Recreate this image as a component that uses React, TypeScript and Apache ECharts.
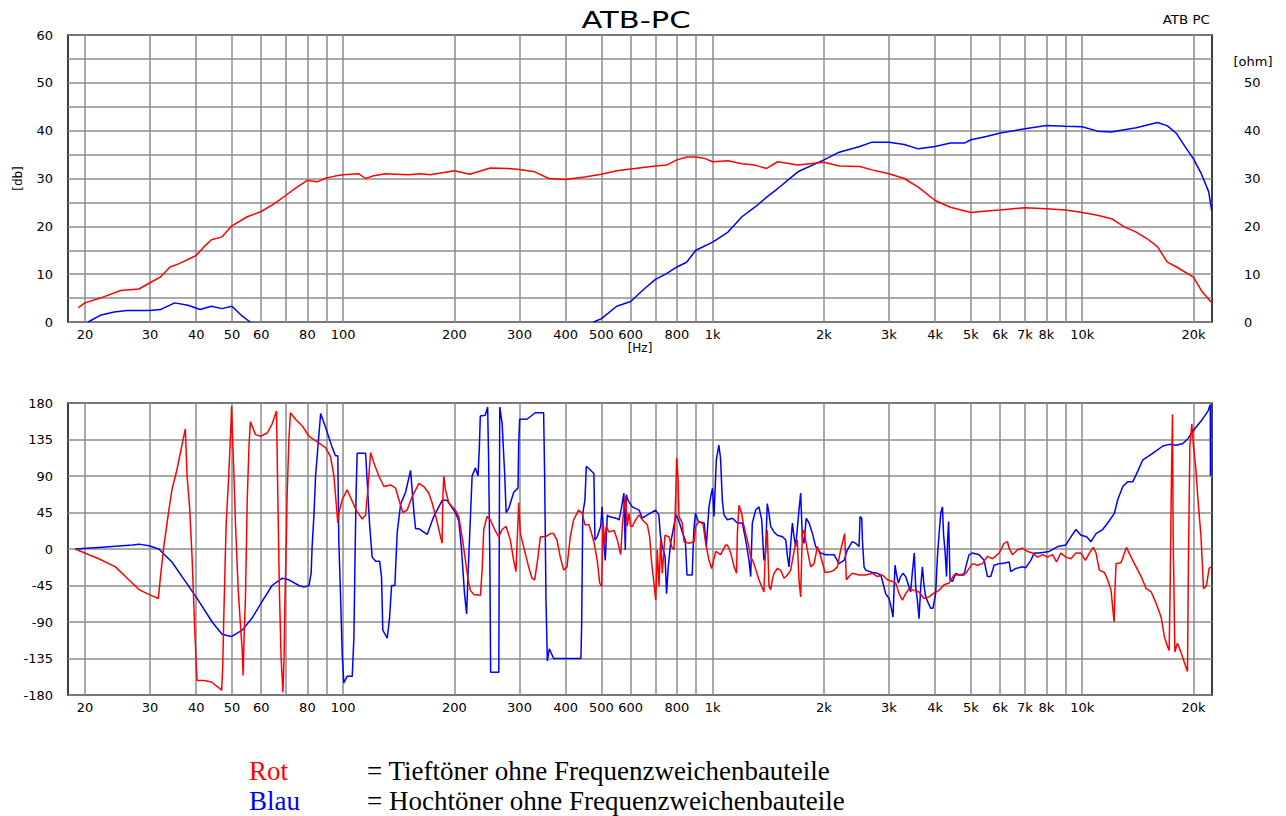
import React, { useEffect, useRef } from "react";
import * as echarts from "echarts";

// ---- axis ticks ----
const gridFreqs = [20, 30, 40, 50, 60, 70, 80, 90, 100, 200, 300, 400, 500, 600, 700, 800, 900, 1000, 2000, 3000, 4000, 5000, 6000, 7000, 8000, 9000, 10000, 20000];
const labelFreqs = [20, 30, 40, 50, 60, 80, 100, 200, 300, 400, 500, 600, 800, 1000, 2000, 3000, 4000, 5000, 6000, 7000, 8000, 10000, 20000];

// ---- magnitude (dB) ----
const redMagFreq = [19.2, 20, 22, 25, 28, 30, 32, 34, 36, 40, 42, 44, 47, 50, 55, 60, 65, 70, 75, 80, 85, 90, 95, 100, 110, 115, 120, 130, 150, 162, 172, 200, 220, 250, 280, 300, 330, 360, 400, 450, 500, 550, 600, 700, 750, 800, 850, 900, 950, 1000, 1100, 1200, 1300, 1400, 1500, 1700, 2000, 2200, 2500, 2700, 3000, 3300, 3600, 4000, 4400, 5000, 5500, 6000, 7000, 8000, 9000, 10000, 11000, 12000, 13000, 14000, 15000, 16000, 17000, 18000, 20000, 21000, 22300];
const redMagDb = [3.0, 4.0, 5.0, 6.6, 6.9, 8.2, 9.4, 11.5, 12.2, 13.9, 15.7, 17.2, 17.8, 20.1, 22.0, 23.1, 24.7, 26.5, 28.2, 29.6, 29.3, 30.1, 30.5, 30.8, 31.0, 30.0, 30.5, 31.0, 30.8, 31.0, 30.8, 31.6, 30.9, 32.2, 32.1, 31.9, 31.4, 30.0, 29.8, 30.3, 30.9, 31.6, 32.0, 32.6, 32.8, 33.9, 34.5, 34.5, 34.2, 33.5, 33.7, 33.1, 32.8, 32.1, 33.5, 32.8, 33.4, 32.6, 32.5, 31.8, 31.0, 30.0, 28.2, 25.4, 24.0, 22.9, 23.2, 23.4, 23.9, 23.7, 23.4, 22.9, 22.3, 21.6, 19.9, 18.8, 17.4, 15.7, 12.5, 11.5, 9.4, 6.6, 4.2];

const blueMagLowFreq = [20.4, 22, 24, 26, 30, 32, 35, 38, 41, 44, 47, 50, 53, 56];
const blueMagLowDb = [0, 1.4, 2.1, 2.4, 2.4, 2.6, 4.0, 3.5, 2.6, 3.3, 2.8, 3.3, 1.4, 0];
const blueMagHighFreq = [476, 500, 550, 600, 650, 700, 750, 800, 850, 900, 1000, 1100, 1200, 1300, 1400, 1500, 1700, 2000, 2200, 2500, 2700, 3000, 3300, 3600, 4000, 4400, 4800, 5000, 5500, 6000, 7000, 8000, 9000, 10000, 11000, 12000, 13000, 14000, 15000, 16000, 17000, 18000, 19000, 20000, 21000, 22000, 22400];
const blueMagHighDb = [0, 0.7, 3.3, 4.3, 6.8, 8.9, 10.1, 11.5, 12.5, 15.0, 16.7, 18.8, 22.0, 24.0, 26.1, 27.9, 31.4, 33.9, 35.5, 36.7, 37.6, 37.6, 37.1, 36.2, 36.7, 37.4, 37.4, 38.1, 38.8, 39.5, 40.4, 41.1, 40.9, 40.8, 39.9, 39.7, 40.2, 40.6, 41.2, 41.7, 41.0, 39.4, 36.6, 34.1, 31.0, 27.2, 23.3];

// ---- phase (degrees) ----
const redPhaseFreq = [18.8, 21.8, 24.2, 26.3, 28.0, 29.8, 31.6, 32.1, 32.7, 33.7, 34.4, 35.5, 36.5, 37.4, 37.8, 38.4, 39.0, 39.7, 40.2, 42.0, 44.0, 46.9, 47.2, 47.5, 48.2, 49.0, 49.6, 49.9, 50.1, 50.6, 51.1, 52.0, 52.7, 53.3, 53.6, 54.0, 54.4, 55.0, 55.6, 56.1, 57.9, 59.8, 62.3, 64.2, 66.0, 66.5, 67.2, 67.9, 68.7, 69.2, 69.5, 70.1, 70.5, 71.3, 72.0, 74.3, 77.4, 80.8, 85.0, 89.6, 92.4, 94.4, 95.7, 96.7, 97.3, 99.4, 102.5, 105.3, 108.4, 112.6, 115.0, 116.6, 118.6, 121.1, 124.9, 128.9, 134.3, 138.6, 141.5, 145.0, 149.0, 153.8, 158.7,
  160.2, 165.3, 170.4, 174, 177.6, 180.7, 183.4, 185.3, 186, 187.2, 189.1, 193.1, 197.1, 201.2, 205.5, 209.8, 214.2, 217.8, 221, 225.6, 235.2, 237.7, 240.1, 245.1, 250.2, 257, 263.7, 269.2, 275.9, 283.4, 289.3, 293.5, 298.5, 301.6, 307.8, 317.6, 324.3, 329.8, 336.7, 341.7, 352.5, 363.6, 371.2, 379, 386.8, 395, 403.3, 411.7, 420.3, 433.6,
  443.6, 451, 462.5, 477, 487, 494.5, 500.7, 504.8, 511, 515, 524, 540.7, 552, 563.6, 569.4, 575.4, 581.5, 587.3, 593.5, 599.8, 605.9, 618.8, 631.7, 644.8, 665.3, 675.1, 683.8, 693.6, 701, 708, 715.5, 723.1, 730.4, 742.8, 761.5, 774.4, 785.6, 794, 798.9, 805.4, 810.5, 827.3, 836.1, 862.6, 890, 899.5, 918.2, 941.5, 957.4, 977.2, 993.8, 1018.8, 1051, 1084,
  1096, 1119, 1143, 1160, 1166, 1178, 1197, 1210, 1228, 1247, 1267, 1293, 1334, 1376, 1390, 1405, 1420, 1435, 1450, 1465, 1496, 1527, 1560, 1593, 1626, 1643, 1670, 1694, 1712, 1730, 1748, 1766, 1803, 1842, 1881, 1920, 1960, 2014, 2086, 2130, 2175, 2220, 2253, 2276, 2300, 2339, 2387, 2489,
  2595, 2705, 2791, 2879, 2970, 3064, 3129, 3194, 3261, 3328, 3399, 3508, 3618, 3733, 3851, 3974, 4099, 4229, 4362, 4500, 4643, 4840, 5045, 5205, 5370, 5541, 5716, 5957, 6146, 6275,
  6341, 6474, 6680, 6891, 7110, 7336, 7569, 7808, 8057, 8311, 8520, 8750, 9035, 9320, 9618, 9923, 10200, 10453, 10720, 10900, 11127, 11480, 11720, 11965, 12200, 12260, 12350, 12740, 13010, 13170, 13560, 13990, 14440, 14900, 15370, 15850, 16350, 16700, 17050, 17190, 17290, 17440, 17550, 17620, 17810, 18100, 18490, 18870, 19270, 19390, 19560, 19800, 20000, 20300, 20590, 20950, 21150, 21290, 21690, 22050, 22350];
const redPhaseDeg = [0, -12, -22, -38, -50, -56, -61, -30, 3, 46, 73, 98, 125, 148, 90, 52, -10, -105, -162, -162, -164, -174, -146, -88, 28, 90, 145, 176, 148, 94, 32, -51, -92, -125, -156, -100, -59, 61, 127, 157, 141, 139, 143, 154, 170, 73, -51, -133, -177, -133, -71, 3, 65, 135, 168, 160, 152, 139, 132, 125, 114, 90, 57, 32, 44, 61, 73, 61, 48, 37, 42, 73, 119, 106, 90, 77, 79, 75, 61, 45, 48, 65, 77,
  81, 77, 69, 57, 42, 28, 15, 7, 61, 90, 73, 57, 52, 48, 40, 15, -14, -38, -51, -56, -57, -26, 24, 40, 36, 24, 15, 24, 28, 11, -14, -28, 57, 19, 3, -22, -36, -38, -10, 15, 15, 19, 19, 11, -10, -26, -22, 15, 36, 48,
  44, 30, 30, 9, -14, -42, -46, 32, 7, 28, 21, 23, 11, -7, 28, 52, 65, 28, 44, 28, 28, 36, 42, 36, 30, 15, -18, -42, -63, -1, -46, 11, -30, 17, 15, 3, -1, 65, 112, 89, 40, 32, 9, 7, 9, 28, 34, 31, 7, -14, -24, -3, -7, 5,
  5, -5, -22, -30, 19, 54, 44, 32, 19, 7, -9, -18, -38, -53, 3, 23, -46, -50, -38, -30, -24, -26, -36, -32, -26, -14, 3, 11, -38, -59, 19, 23, -1, -22, -18, 3, -9, -29, -28, -26, -22, -1, 11, 19, -38, -34, -30, -32,
  -32, -30, -34, -32, -38, -40, -42, -55, -63, -55, -49, -51, -53, -61, -59, -54, -51, -44, -42, -32, -32, -30, -18, -20, -18, -9, -12, -5, 7, 9,
  1, -7, -1, 1, -3, -5, -10, -7, -10, -7, -16, -5, -10, -12, -5, -5, -14, -5, 2, -5, -26, -29, -38, -51, -90, -51, -18, -17, -5, 2, -10, -22, -34, -49, -53, -67, -84, -109, -121, -125, -53, 91, 166, 21, -127, -116, -127, -139, -151, -8, 127, 154, 127, 99, 58, 17, -20, -49, -45, -24, -22];

const bluePhaseFreq = [18.8, 21.8, 26.9, 28.0, 29.8, 31.7, 34.4, 37.4, 40.1, 44.2, 47.0, 49.8, 53.3, 56.7, 60.3, 64.2, 68.4, 71.3, 75.9, 78.3, 80.8, 81.9, 82.4, 83.3, 84.2, 85.6, 86.9, 89.6, 93.4, 95.3, 96.7, 97.3, 98.4, 99.4, 100.4, 102.5, 105.8, 106.9, 107.6, 108.4, 109.1, 115.0, 116.2, 117.9, 119.8, 122.4, 125.5, 127.0, 128.0, 131.6, 133.5, 135.2, 138.0, 140.0, 143.0, 147.5, 152.2, 155.4, 157.0,
  160.2, 168.8, 175.8, 185.3, 191, 201.2, 205.5, 209, 213, 215.8, 217.8, 221, 223.3, 228, 231.7, 233.6, 235, 242.4, 246, 247.5, 249.6, 250.6, 263.7, 265.3, 269.2, 273.7, 276, 280.6, 289.4, 297.2, 298.5, 300.4, 314.3, 331, 348.7, 350.9, 353.8, 356.8, 361.3, 371.2, 439.9,
  442, 445, 451, 455, 477, 480, 487, 497.6, 502, 507.8, 512, 518.5, 524, 547, 558, 567, 575, 580, 584, 590, 606, 632, 645, 666, 700, 715, 721, 730, 743, 750, 758, 769, 781, 795, 808, 830, 843, 852, 880, 889, 898, 914, 948, 961, 977, 988, 999, 1008, 1023, 1039,
  1050, 1062, 1073, 1096, 1131, 1166, 1203, 1228, 1254, 1267, 1280, 1307, 1334, 1357, 1376, 1390, 1405, 1420, 1435, 1465, 1496, 1545, 1577, 1593, 1609, 1626, 1643, 1660, 1677, 1712, 1730, 1748, 1766, 1791, 1823, 1862, 1900, 1960, 2022, 2130, 2197, 2268, 2314, 2387, 2437, 2489,
  2505, 2531, 2542, 2568, 2595, 2705, 2791, 2850, 2890, 2937, 3001, 3050, 3076, 3095, 3115, 3140, 3180, 3225, 3273, 3328, 3385, 3433, 3468, 3512, 3542, 3580, 3618, 3656, 3694, 3733, 3772, 3835, 3890, 3946, 4012, 4057, 4099, 4142, 4186, 4213, 4257, 4294, 4322, 4350, 4388, 4455, 4548, 4643, 4790, 4840, 4941, 5045, 5259, 5426, 5541, 5655, 5775, 5957,
  6082, 6341, 6407, 6610, 6891, 7036, 7260, 7411, 7648, 8141, 8577, 9035, 9320, 9618, 9923, 10280, 10560, 10900, 11360, 11720, 12220, 12480, 12880, 13280, 13710, 14140, 14590, 15050, 15850, 16530, 17231, 17960, 18720, 19320, 20140, 21000, 21890, 22210, 22230];
const bluePhaseDeg = [0, 2, 5, 6, 4, 0, -16, -40, -60, -90, -105, -108, -100, -85, -65, -45, -36, -38, -45, -47, -45, -30, 3, 40, 90, 131, 167, 150, 125, 115, 115, 11, -60, -130, -165, -157, -157, -110, -18, 70, 118, 118, 81, 30, -10, -15, -15, -35, -100, -110, -85, -45, -45, 20, 55, 70, 97, 45, 25,
  25, 18, 40, 60, 60, 45, 35, 0, -55, -80, -30, 40, 90, 100, 90, 125, 164, 165, 175, 110, -30, -152, -152, 175, 155, 90, 45, 50, 70, 75, 130, 160, 160, 168, 168, 90, -60, -138, -123, -135, -135,
  -92, 44, 60, 102, 93, 11, 15, 28, 52, 7, -14, 42, 40, 38, 36, 52, 69, -1, 67, 60, 52, 48, 38, 42, 48, 42, 19, 3, -9, -55, -22, 7, 23, 42, 36, 19, 11, -32, -32, 23, 44, 34, 32, 3, 52, 65, 75, 40, 110, 128,
  112, 60, 42, 36, 38, 32, 32, 11, -14, -34, 32, 48, 52, 36, -14, -5, 56, 44, 28, 21, 17, 15, 11, -9, -22, 7, 32, 15, 3, 48, 69, 15, 7, 38, 32, 19, 3, -5, -7, -7, -18, -14, -1, 9, 7, 3,
  40, 38, 11, -22, -26, -29, -30, -32, -42, -55, -61, -75, -84, -51, -20, -30, -42, -34, -30, -34, -44, -53, -30, -5, -46, -63, -86, -46, -22, -46, -59, -67, -73, -73, -55, -9, 19, 44, 52, 19, -5, -34, 11, 34, -38, -40, -30, -32, -32, -22, -7, -5, -7, -14, -34, -34, -20, -18,
  -18, -16, -28, -24, -22, -23, -14, -5, -5, -3, 3, 5, 15, 24, 17, 15, 9, 19, 24, 32, 44, 61, 77, 83, 83, 96, 110, 114, 121, 127, 129, 128, 130, 136, 148, 158, 170, 178, 90];

const RED = "#ff0000";
const BLUE = "#0000ff";
const GRID_COLOR = "#8c8c8c";
const AXIS_FONT = "DejaVu Sans";

const pairs = (xs: number[], ys: number[]) => xs.map((x, i) => [x, ys[i]]);
const freqLabel = (v: number) => (v >= 1000 ? `${Math.round(v / 1000)}k` : `${Math.round(v)}`);

export default function App() {
  const ref = useRef<HTMLDivElement>(null);

  useEffect(() => {
    if (!ref.current) return;
    const chart = echarts.init(ref.current, undefined, { renderer: "svg" });

    const xAxisBase = (gridIndex: number, margin: number) => ({
      type: "log" as const,
      logBase: 10,
      gridIndex,
      min: 18,
      max: 22450,
      axisLine: { show: false },
      axisTick: { show: false, customValues: gridFreqs },
      axisLabel: {
        customValues: labelFreqs,
        formatter: (v: number) => freqLabel(v),
        color: "#000",
        fontFamily: AXIS_FONT,
        fontSize: 13,
        margin,
      },
      splitLine: { show: true, lineStyle: { color: GRID_COLOR, width: 1.5 } },
      minorTick: { show: false },
      minorSplitLine: { show: false },
    });

    const lineSeries = (name: string, data: number[][], color: string, xi: number, yi: number) => ({
      name,
      type: "line" as const,
      xAxisIndex: xi,
      yAxisIndex: yi,
      data,
      showSymbol: false,
      symbol: "none",
      clip: true,
      lineStyle: { color, width: 1.5 },
      itemStyle: { color },
      z: 3,
    });

    const option: any = {
      animation: false,
      backgroundColor: "#ffffff",
      grid: [
        { left: 68, top: 35, width: 1144, height: 287, show: true, borderColor: "#000", borderWidth: 1.5, backgroundColor: "transparent" },
        { left: 68, top: 403, width: 1144, height: 292, show: true, borderColor: "#000", borderWidth: 1.5, backgroundColor: "transparent" },
      ],
      xAxis: [
        {
          ...xAxisBase(0, 6),
          name: "[Hz]",
          nameLocation: "middle",
          nameGap: 19,
          nameTextStyle: { color: "#000", fontFamily: AXIS_FONT, fontSize: 12 },
        },
        xAxisBase(1, 6),
      ],
      yAxis: [
        {
          type: "value",
          gridIndex: 0,
          min: 0,
          max: 60,
          interval: 5,
          name: "[db]",
          nameLocation: "middle",
          nameRotate: 90,
          nameGap: 44,
          nameTextStyle: { color: "#000", fontFamily: AXIS_FONT, fontSize: 12 },
          axisLine: { show: false },
          axisTick: { show: false },
          axisLabel: {
            formatter: (v: number) => (v % 10 === 0 ? String(v) : ""),
            color: "#000",
            fontFamily: AXIS_FONT,
            fontSize: 13,
            margin: 15,
          },
          splitLine: { show: true, lineStyle: { color: GRID_COLOR, width: 1.5 } },
        },
        {
          type: "value",
          gridIndex: 0,
          position: "right",
          min: 0,
          max: 60,
          interval: 10,
          axisLine: { show: false },
          axisTick: { show: false },
          axisLabel: {
            formatter: (v: number) => (v === 60 ? "" : String(v)),
            color: "#000",
            fontFamily: AXIS_FONT,
            fontSize: 13,
            margin: 32,
          },
          splitLine: { show: false },
        },
        {
          type: "value",
          gridIndex: 1,
          min: -180,
          max: 180,
          interval: 45,
          axisLine: { show: false },
          axisTick: { show: false },
          axisLabel: { color: "#000", fontFamily: AXIS_FONT, fontSize: 13, margin: 15 },
          splitLine: { show: true, lineStyle: { color: GRID_COLOR, width: 1.5 } },
        },
      ],
      series: [
        lineSeries("Hochtöner", pairs(blueMagLowFreq, blueMagLowDb), BLUE, 0, 0),
        lineSeries("Hochtöner ", pairs(blueMagHighFreq, blueMagHighDb), BLUE, 0, 0),
        lineSeries("Tieftöner", pairs(redMagFreq, redMagDb), RED, 0, 0),
        lineSeries("Hochtöner Phase", pairs(bluePhaseFreq, bluePhaseDeg), BLUE, 1, 2),
        lineSeries("Tieftöner Phase", pairs(redPhaseFreq, redPhaseDeg), RED, 1, 2),
      ],
      graphic: [
        {
          type: "text",
          x: 636,
          y: 20,
          scaleX: 1.33,
          style: { text: "ATB-PC", font: `23px "${AXIS_FONT}"`, fill: "#000", textAlign: "center", textVerticalAlign: "middle" },
        },
        {
          type: "text",
          x: 1210,
          y: 20,
          scaleX: 1.12,
          style: { text: "ATB PC", font: `12px "${AXIS_FONT}"`, fill: "#000", textAlign: "right", textVerticalAlign: "middle" },
        },
        {
          type: "text",
          x: 1253,
          y: 61,
          style: { text: "[ohm]", font: `13px "${AXIS_FONT}"`, fill: "#000", textAlign: "center", textVerticalAlign: "middle" },
        },
        {
          type: "text",
          x: 249,
          y: 771,
          style: { text: "Rot", font: `27px "Liberation Serif"`, fill: RED, textAlign: "left", textVerticalAlign: "middle" },
        },
        {
          type: "text",
          x: 367,
          y: 771,
          style: { text: "= Tieftöner ohne Frequenzweichenbauteile", font: `27px "Liberation Serif"`, fill: "#000", textAlign: "left", textVerticalAlign: "middle" },
        },
        {
          type: "text",
          x: 249,
          y: 801,
          style: { text: "Blau", font: `27px "Liberation Serif"`, fill: BLUE, textAlign: "left", textVerticalAlign: "middle" },
        },
        {
          type: "text",
          x: 367,
          y: 801,
          style: { text: "= Hochtöner ohne Frequenzweichenbauteile", font: `27px "Liberation Serif"`, fill: "#000", textAlign: "left", textVerticalAlign: "middle" },
        },
      ],
    };

    chart.setOption(option);
    return () => chart.dispose();
  }, []);

  return <div ref={ref} style={{ position: "absolute", left: 0, top: 0, width: 1286, height: 816 }} />;
}
